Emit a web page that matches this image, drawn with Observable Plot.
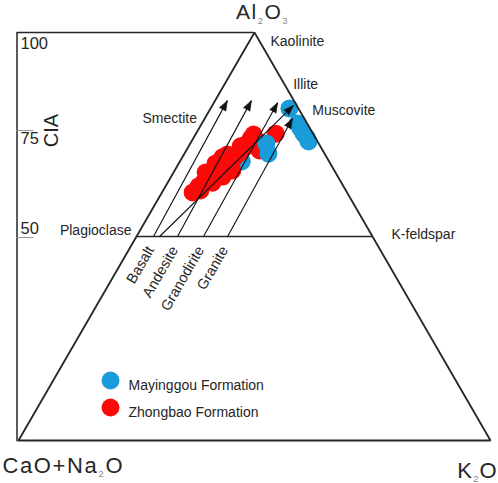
<!DOCTYPE html>
<html>
<head>
<meta charset="utf-8">
<script src="https://cdn.jsdelivr.net/npm/d3@7"></script>
<script src="https://cdn.jsdelivr.net/npm/@observablehq/plot@0.6"></script>
<style>
  html, body { margin: 0; padding: 0; background: #fff; }
  #chart { width: 498px; height: 483px; overflow: hidden; }
  #chart svg { display: block; }
</style>
</head>
<body>
<div id="chart"></div>
<script>
// ---------------- DATA ----------------
// Ternary apexes (Al2O3, CaO+Na2O, K2O in %)
const vertexNames   = ["Al2O3", "CaO+Na2O", "K2O"];
const vertexAl2O3   = [100, 0, 0];
const vertexCaONa2O = [0, 100, 0];
const vertexK2O     = [0, 0, 100];

// CIA scale ticks (CIA = Al2O3 share in the A-CN-K space)
const ciaTicks = [100, 75, 50];

// Mineral reference compositions (label anchor points)
const mineralNames = ["Kaolinite", "Illite", "Muscovite", "Smectite", "Plagioclase", "K-feldspar"];
const mineralAl2O3 = [100, 87, 81, 79, 50, 50];
const mineralK2O   = [0, 13, 19, 0, 0, 50];

// Ideal weathering trends of source rocks (start on feldspar join, end near A apex)
const rockNames  = ["Basalt", "Andesite", "Granodirite", "Granite"];
const rockStartA = [50, 50, 50, 50];
const rockStartK = [3.6, 8.7, 14.2, 19.3];
const rockEndA   = [83.3, 83.3, 82.8, 78.9];
const rockEndK   = [2.6, 7.7, 13.5, 18.6];

// Predicted weathering trend of the samples
const sampleTrendA = [50, 82.1];
const sampleTrendK = [4.9, 17.2];

// Samples (in drawing order)
const formations = ["Mayinggou Formation", "Zhongbao Formation"];
const formationColors = ["#1a9cdb", "#fb0a0a"];
const M = "Mayinggou Formation", Z = "Zhongbao Formation";
const sampleFormation = [M,
  Z, Z, Z, Z, Z, Z, Z, Z, Z, Z, Z, Z, Z, Z, Z, Z, Z, Z, Z, Z, Z, Z, Z, Z, Z, Z,
  M, M, M, M, M, M, M, M];
const sampleAl2O3 = [68.4,
  60.8, 61.3, 62.3, 63.2, 63.2, 64.5, 65.7, 65.4, 64.7, 66.4, 67.9, 67.4, 66.2,
  68.4, 69.4, 70.1, 69.1, 70.3, 72.1, 71.6, 72.8, 74.0, 75.0, 73.5, 71.1, 75.2,
  72.8, 70.3, 81.4, 77.7, 76.5, 75.2, 74.3, 73.3];
const sampleCaONa2O = [18.5,
  32.7, 30.8, 30.7, 29.2, 27.3, 27.5, 27.5, 26.0, 24.4, 24.4, 24.3, 22.9, 21.6,
  21.3, 22.1, 20.7, 19.9, 18.2, 16.9, 16.5, 15.1, 13.8, 12.7, 12.8, 13.4, 7.9,
  11.1, 11.9, 1.9, 2.0, 2.0, 2.0, 1.8, 1.9];
const sampleK2O = [13.1,
  6.5, 7.9, 7.0, 7.6, 9.5, 8.0, 6.8, 8.6, 10.9, 9.2, 7.8, 9.7, 12.2,
  10.3, 8.5, 9.2, 11.0, 11.5, 11.0, 11.9, 12.1, 12.2, 12.3, 13.7, 15.5, 16.9,
  16.1, 17.8, 16.7, 20.3, 21.5, 22.8, 23.9, 24.8];

// ---------------- LAYOUT / STYLE ----------------
const W = 498, H = 483;
const xRange = [18, 490], yRange = [440, 32];
const font = "'Liberation Sans', Arial, Helvetica, sans-serif";
const ink = "#262626";
const dotR = 9;

function tern(A, CN, K) {
  const s = A + CN + K;
  return { x: (K + A / 2) / s, y: A / s };
}
function tAK(A, K) { return tern(A, 100 - A - K, K); }

const vertices = vertexNames.map((n, i) => ({ name: n, ...tern(vertexAl2O3[i], vertexCaONa2O[i], vertexK2O[i]) }));
const vMap = Object.fromEntries(vertices.map(v => [v.name, v]));
const triangle = [vMap["CaO+Na2O"], vMap["K2O"], vMap["Al2O3"], vMap["CaO+Na2O"]];

const minerals = mineralNames.map((n, i) => ({ name: n, ...tAK(mineralAl2O3[i], mineralK2O[i]) }));
const feldsparJoin = [{ a: minerals[4], b: minerals[5] }];

function pixelAngle(p, q) {
  const dxp = (q.x - p.x) * (xRange[1] - xRange[0]);
  const dyp = (q.y - p.y) * (yRange[1] - yRange[0]);
  return Math.atan2(dxp, -dyp) * 180 / Math.PI;
}

const trends = rockNames.map((n, i) => {
  const s = tAK(rockStartA[i], rockStartK[i]);
  const e = tAK(rockEndA[i], rockEndK[i]);
  return { name: n, x1: s.x, y1: s.y, x2: e.x, y2: e.y, angle: pixelAngle(s, e) };
});
{
  const s = tAK(sampleTrendA[0], sampleTrendK[0]);
  const e = tAK(sampleTrendA[1], sampleTrendK[1]);
  trends.push({ name: "", x1: s.x, y1: s.y, x2: e.x, y2: e.y, angle: pixelAngle(s, e) });
}

const samples = sampleFormation.map((f, i) => ({ formation: f, ...tern(sampleAl2O3[i], sampleCaONa2O[i], sampleK2O[i]) }));

const mineralStyle = {
  "Kaolinite":   { anchor: "start", dx: 16, dy: 9 },
  "Illite":      { anchor: "start", dx: 8,  dy: -1 },
  "Muscovite":   { anchor: "start", dx: 13, dy: 0 },
  "Smectite":    { anchor: "end",   dx: -8, dy: 0 },
  "Plagioclase": { anchor: "end",   dx: -5, dy: -6 },
  "K-feldspar":  { anchor: "start", dx: 19, dy: -2 }
};
const vertexStyle = {
  "Al2O3":    { anchor: "middle", dx: 8,   dy: -20, size: 21, spacing: 1.5 },
  "CaO+Na2O": { anchor: "start",  dx: -16, dy: 25,  size: 22, spacing: 1.6 },
  "K2O":      { anchor: "end",    dx: 7,   dy: 30,  size: 22, spacing: 1 }
};
const ciaLabelDy = { 100: 11, 75: 4, 50: -8 };
const ciaTickDy = { 75: -4, 50: 1 };

const marks = [];

// Samples
marks.push(Plot.dot(samples, { x: "x", y: "y", r: dotR, fill: "formation", stroke: "none" }));

// Triangle and feldspar join
marks.push(Plot.line(triangle, { x: "x", y: "y", stroke: ink, strokeWidth: 1.8, strokeLinejoin: "miter" }));
marks.push(Plot.link(feldsparJoin, { x1: d => d.a.x, y1: d => d.a.y, x2: d => d.b.x, y2: d => d.b.y, stroke: ink, strokeWidth: 1.6 }));

// CIA axis frame
const ciaFrame = [{ x: 0, y: 0 }, { x: 0, y: 1 }, { x: 0.5, y: 1 }];
marks.push(Plot.line(ciaFrame, { x: "x", y: "y", dx: -1.5, stroke: ink, strokeWidth: 1.5, strokeLinecap: "square" }));
for (const t of ciaTicks) {
  if (ciaTickDy[t] !== undefined) {
    marks.push(Plot.ruleY([t], { y: d => d / 100, x1: 0, x2: 0.036, dx: -1.5, dy: ciaTickDy[t], stroke: "#9a9a9a", strokeWidth: 1 }));
  }
  marks.push(Plot.text([t], { x: 0, y: d => d / 100, text: d => String(d), dx: 2, dy: ciaLabelDy[t],
    textAnchor: "start", fontSize: 16.5, fill: ink }));
}
marks.push(Plot.text(["CIA"], { x: 0, y: 0.75, text: d => d, dx: 33, dy: -4, rotate: -90, fontSize: 20, fill: ink }));

// Weathering trend lines + arrowheads
marks.push(Plot.link(trends, { x1: "x1", y1: "y1", x2: "x2", y2: "y2", stroke: "#111", strokeWidth: 1.1 }));
marks.push(Plot.vector(trends, { x: "x2", y: "y2", rotate: "angle", length: 10, r: 3.6, shape: "spike",
  anchor: "end", fill: "#111", stroke: "#111", strokeWidth: 0.6 }));

// Rock labels (rotated)
marks.push(Plot.text(trends.filter(d => d.name), { x: "x1", y: "y1", text: "name", rotate: -60,
  textAnchor: "end", dx: -3, dy: 11, fontSize: 14.5, fill: ink }));

// Mineral labels
for (const m of minerals) {
  const s = mineralStyle[m.name];
  marks.push(Plot.text([m], { x: "x", y: "y", text: "name", textAnchor: s.anchor, dx: s.dx, dy: s.dy, fontSize: 14, fill: ink }));
}

// Vertex labels
for (const v of vertices) {
  const s = vertexStyle[v.name];
  marks.push(Plot.text([v], { x: "x", y: "y", text: "name", textAnchor: s.anchor, dx: s.dx, dy: s.dy,
    fontSize: s.size, fill: ink }));
}

// Legend
formations.forEach((f, i) => {
  marks.push(Plot.dot([f], { frameAnchor: "top-left", dx: 110, dy: 380 + 27 * i, r: dotR, fill: d => d }));
  marks.push(Plot.text([f], { frameAnchor: "top-left", dx: 128, dy: 380 + 27 * i, text: d => d,
    textAnchor: "start", fontSize: 14, fill: ink }));
});

const chart = Plot.plot({
  width: W, height: H,
  margin: 0,
  style: { fontFamily: font, background: "#fff", overflow: "visible" },
  x: { domain: [0, 1], range: xRange, axis: null },
  y: { domain: [0, 1], range: yRange, axis: null },
  color: { domain: formations, range: formationColors },
  marks
});

// Chemical formula subscripts and letter spacing
const formulas = new Set(vertexNames);
chart.querySelectorAll("text").forEach(t => {
  const s = t.textContent;
  if (!formulas.has(s)) return;
  const fs = vertexStyle[s].size;
  t.setAttribute("letter-spacing", vertexStyle[s].spacing);
  t.textContent = "";
  const parts = s.match(/\d+|\D+/g);
  let shifted = false;
  for (const p of parts) {
    const ts = document.createElementNS("http://www.w3.org/2000/svg", "tspan");
    ts.textContent = p;
    if (/\d/.test(p)) {
      ts.setAttribute("font-size", fs * 0.45);
      ts.setAttribute("dy", fs * 0.22);
      ts.setAttribute("fill", "#8a8a8a");
      shifted = true;
    } else if (shifted) {
      ts.setAttribute("dy", -fs * 0.22);
      shifted = false;
    }
    t.appendChild(ts);
  }
});

document.getElementById("chart").appendChild(chart);
</script>
</body>
</html>
